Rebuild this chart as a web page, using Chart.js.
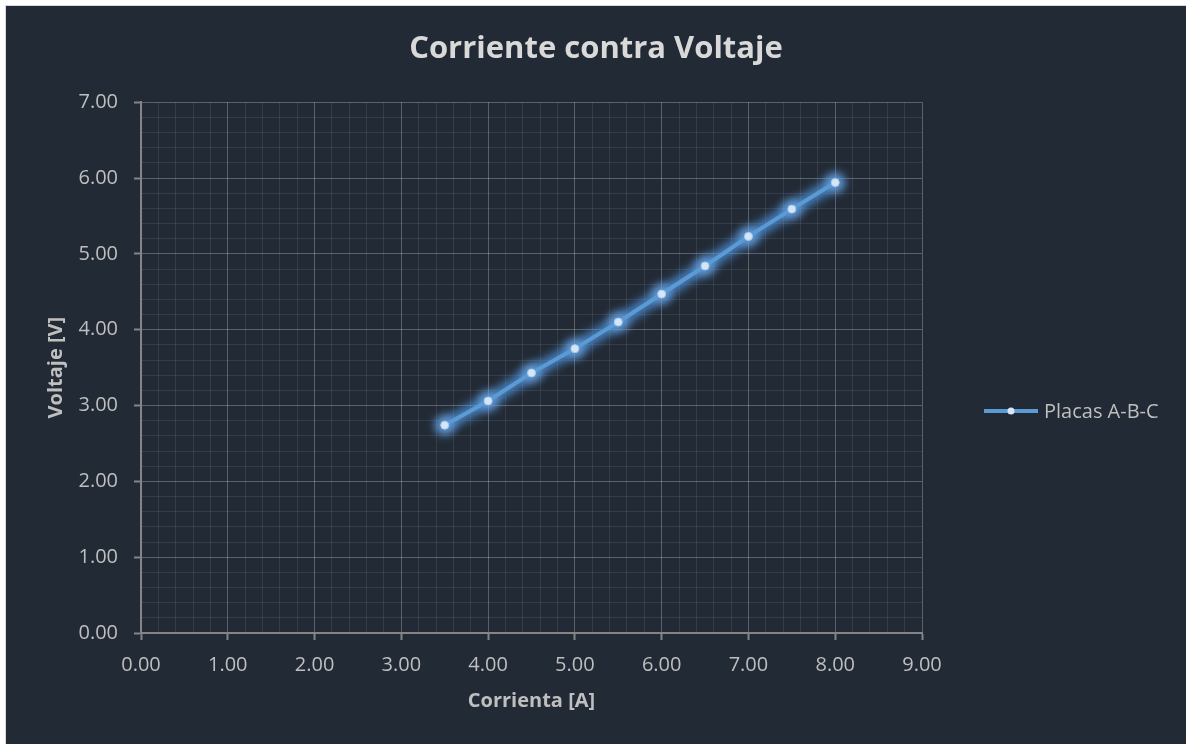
<!DOCTYPE html>
<html>
<head>
<meta charset="utf-8">
<script src="https://cdn.jsdelivr.net/npm/chart.js@4.4.1/dist/chart.umd.min.js"></script>
<style>
  html, body { margin: 0; padding: 0; background: #ffffff; }
  #wrap {
    position: absolute; left: 5px; top: 5px;
    width: 1180px; height: 738px;
    border: 1px solid #d9d9d9;
    background: #222a35;
  }
</style>
</head>
<body>
<div id="wrap"><canvas id="ivChart"></canvas></div>
<script>
// data
const corriente = [3.5, 4.0, 4.5, 5.0, 5.5, 6.0, 6.5, 7.0, 7.5, 8.0];
const voltaje = [2.74, 3.06, 3.43, 3.75, 4.10, 4.47, 4.84, 5.23, 5.59, 5.94];
const seriesLabel = 'Placas A-B-C';
const xTitle = 'Corrienta [A]';
const yTitle = 'Voltaje [V]';
const chartTitle = 'Corriente contra Voltaje';

const isMajor = v => Math.abs(v - Math.round(v)) < 1e-6;

const gridOpts = {
    color: ctx => isMajor(ctx.tick.value) ? 'rgba(255,255,255,0.26)' : 'rgba(255,255,255,0.09)',
    lineWidth: 1,
    borderDash: ctx => isMajor(ctx.tick.value) ? [] : [1, 2],
    tickColor: ctx => isMajor(ctx.tick.value) ? '#858585' : 'rgba(0,0,0,0)',
    tickLength: 7,
    tickWidth: 2
};

// soft blue halo under the line, built from the points the library placed
const glow = {
    id: 'glow',
    beforeDatasetDraw(chart, args) {
        const pts = args.meta.data;
        if (!pts.length) return;
        const ctx = chart.ctx;
        ctx.save();
        ctx.filter = 'blur(5px)';
        ctx.strokeStyle = 'rgba(80,150,225,0.8)';
        ctx.lineWidth = 13;
        ctx.lineJoin = 'round';
        ctx.lineCap = 'round';
        ctx.beginPath();
        pts.forEach((p, i) => i ? ctx.lineTo(p.x, p.y) : ctx.moveTo(p.x, p.y));
        ctx.stroke();
        ctx.fillStyle = 'rgba(110,170,235,0.75)';
        pts.forEach(p => {
            ctx.beginPath();
            ctx.arc(p.x, p.y, 10, 0, Math.PI * 2);
            ctx.fill();
        });
        ctx.restore();
    }
};

// legend on the right, drawn by hand so it sits where Excel put it
const sideLegend = {
    id: 'sideLegend',
    afterDraw(chart) {
        const ctx = chart.ctx;
        const ds = chart.data.datasets[0];
        const x0 = 978, x1 = 1032, y = 405;
        ctx.save();
        ctx.strokeStyle = ds.borderColor;
        ctx.lineWidth = 4;
        ctx.beginPath();
        ctx.moveTo(x0, y);
        ctx.lineTo(x1, y);
        ctx.stroke();
        ctx.fillStyle = ds.pointBackgroundColor;
        ctx.beginPath();
        ctx.arc((x0 + x1) / 2, y, 3.5, 0, Math.PI * 2);
        ctx.fill();
        ctx.fillStyle = '#bfbfbf';
        ctx.font = '20px "Open Sans"';
        ctx.textBaseline = 'middle';
        ctx.fillText(ds.label, 1038, y + 1);
        ctx.restore();
    }
};

const ctx = document.getElementById('ivChart').getContext('2d');
new Chart(ctx, {
    type: 'line',
    data: {
        datasets: [{
            label: seriesLabel,
            data: corriente.map((c, i) => ({ x: c, y: voltaje[i] })),
            borderColor: '#5b9bd5',
            borderWidth: 4,
            pointRadius: 4,
            pointBackgroundColor: '#d6e6f6',
            pointBorderColor: '#a9cbec',
            pointBorderWidth: 1,
            tension: 0
        }]
    },
    options: {
        responsive: true,
        maintainAspectRatio: false,
        animation: false,
        devicePixelRatio: 1,
        layout: { padding: 0 },
        plugins: {
            legend: { display: false },
            tooltip: { enabled: false },
            title: {
                display: true,
                text: chartTitle,
                color: '#d9d9d9',
                font: { family: 'Open Sans', size: 31, weight: 'bold' },
                padding: { top: 25, bottom: 34 }
            }
        },
        scales: {
            x: {
                type: 'linear',
                min: 0,
                max: 9,
                afterFit: s => { s.height = 111; },
                ticks: {
                    stepSize: 0.2,
                    maxTicksLimit: 100,
                    autoSkip: false,
                    maxRotation: 0,
                    padding: 13,
                    color: '#bfbfbf',
                    font: { family: 'Open Sans', size: 20 },
                    callback: v => isMajor(v) ? v.toFixed(2) : ''
                },
                grid: gridOpts,
                border: { color: '#858585', width: 2 },
                title: {
                    display: true,
                    text: xTitle,
                    color: '#bfbfbf',
                    font: { family: 'Open Sans', size: 20, weight: 'bold' },
                    padding: { top: 0, bottom: 31 }
                }
            },
            y: {
                min: 0,
                max: 7,
                afterFit: s => { s.width = 135; },
                ticks: {
                    stepSize: 0.2,
                    maxTicksLimit: 100,
                    autoSkip: false,
                    padding: 16,
                    color: '#bfbfbf',
                    font: { family: 'Open Sans', size: 20 },
                    callback: v => isMajor(v) ? v.toFixed(2) : ''
                },
                grid: gridOpts,
                border: { color: '#858585', width: 2 },
                title: {
                    display: true,
                    text: yTitle,
                    color: '#bfbfbf',
                    font: { family: 'Open Sans', size: 20, weight: 'bold' },
                    padding: { top: 38, bottom: 0 }
                }
            },
            // empty right-hand box that keeps room for the legend
            spacer: {
                type: 'linear',
                position: 'right',
                min: 0,
                max: 7,
                afterFit: s => { s.width = 264; },
                ticks: { display: false },
                grid: { display: false, drawOnChartArea: false },
                border: { display: false }
            }
        }
    },
    plugins: [glow, sideLegend]
});
</script>
</body>
</html>
